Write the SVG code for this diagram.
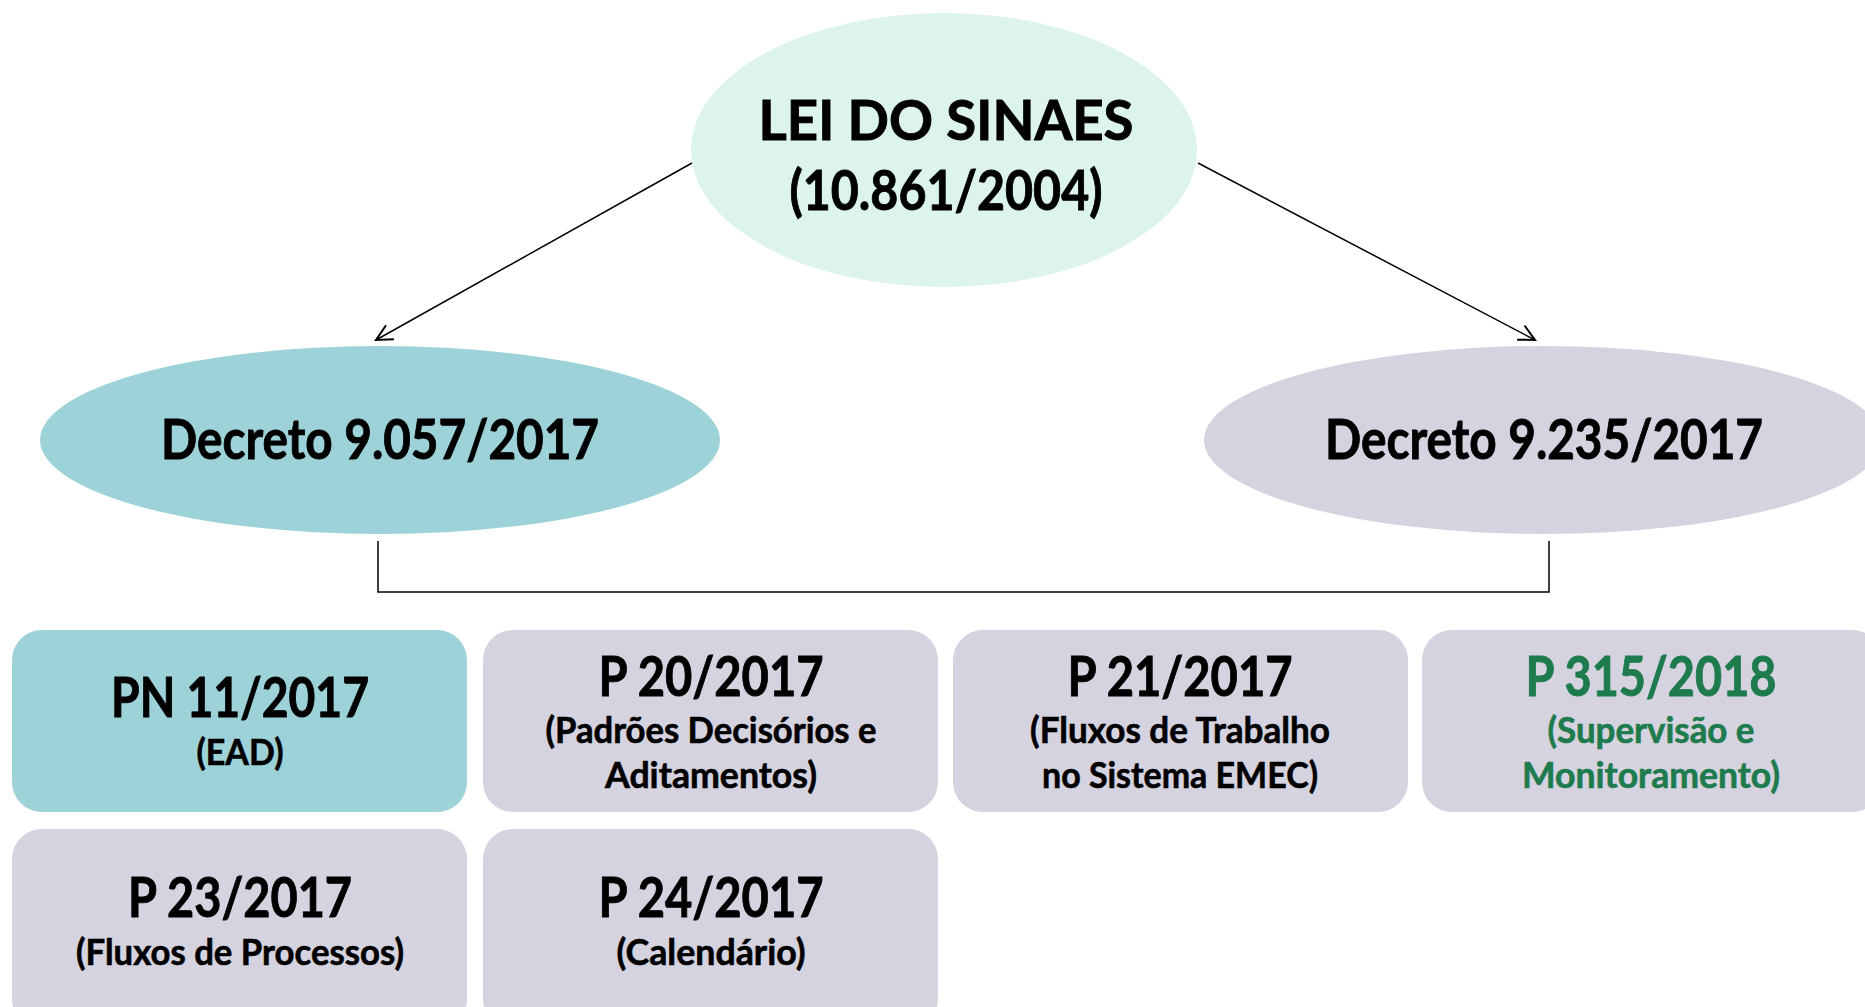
<svg xmlns="http://www.w3.org/2000/svg" width="1865" height="1007" viewBox="0 0 1865 1007">
<defs>
<marker id="arr" viewBox="0 0 20 20" refX="18" refY="10" markerWidth="20" markerHeight="20" markerUnits="userSpaceOnUse" orient="auto">
<path d="M2,2 L18,10 L2,18" fill="none" stroke="#000" stroke-width="2"/>
</marker>
<style>
text{font-family:Lato,"Liberation Sans",sans-serif;font-weight:bold;text-anchor:middle;fill:#000;stroke:#000;stroke-width:0.9}
.big{font-size:56px}
.sub{font-size:36px;stroke-width:0.6}
.teal{fill:#9DD3D8}
.gray{fill:#D5D3DF}
text.green{fill:#1E7B4E;stroke:#1E7B4E}
.conn{fill:none;stroke:#000;stroke-width:1.5}
</style>
</defs>
<rect width="1865" height="1007" fill="#fff"/>
<g id="connectors">
<line class="conn" x1="692" y1="163" x2="376" y2="340" marker-end="url(#arr)"/>
<line class="conn" x1="1198" y1="163" x2="1535" y2="340" marker-end="url(#arr)"/>
<polyline class="conn" stroke="#444" points="378,541 378,592 1549,592 1549,541"/>
</g>
<g id="lei">
<ellipse cx="944" cy="150" rx="253" ry="137" fill="#DCF3EE"/>
<text class="big" x="946" y="140" textLength="375" lengthAdjust="spacingAndGlyphs">LEI DO SINAES</text>
<text class="big" x="946" y="210" textLength="313" lengthAdjust="spacingAndGlyphs">(10.861/2004)</text>
</g>
<g id="decreto9057">
<ellipse class="teal" cx="380" cy="440" rx="340" ry="94"/>
<text class="big" x="380" y="459" textLength="438" lengthAdjust="spacingAndGlyphs">Decreto 9.057/2017</text>
</g>
<g id="decreto9235">
<ellipse class="gray" cx="1543" cy="440" rx="339" ry="94"/>
<text class="big" x="1544" y="459" textLength="438" lengthAdjust="spacingAndGlyphs">Decreto 9.235/2017</text>
</g>
<g id="pn11">
<rect class="teal" x="12" y="630" width="455" height="182" rx="30"/>
<text class="big" x="240" y="717" textLength="258" lengthAdjust="spacingAndGlyphs">PN 11/2017</text>
<text class="sub" x="240" y="765" textLength="87" lengthAdjust="spacingAndGlyphs">(EAD)</text>
</g>
<g id="p20">
<rect class="gray" x="483" y="630" width="455" height="182" rx="30"/>
<text class="big" x="711" y="696" textLength="225" lengthAdjust="spacingAndGlyphs">P 20/2017</text>
<text class="sub" x="711" y="743" textLength="331" lengthAdjust="spacingAndGlyphs">(Padrões Decisórios e</text>
<text class="sub" x="711" y="788" textLength="212" lengthAdjust="spacingAndGlyphs">Aditamentos)</text>
</g>
<g id="p21">
<rect class="gray" x="953" y="630" width="455" height="182" rx="30"/>
<text class="big" x="1180" y="696" textLength="225" lengthAdjust="spacingAndGlyphs">P 21/2017</text>
<text class="sub" x="1180" y="743" textLength="300" lengthAdjust="spacingAndGlyphs">(Fluxos de Trabalho</text>
<text class="sub" x="1180" y="788" textLength="276" lengthAdjust="spacingAndGlyphs">no Sistema EMEC)</text>
</g>
<g id="p315">
<rect class="gray" x="1422" y="630" width="460" height="182" rx="30"/>
<text class="big green" x="1651" y="696" textLength="251" lengthAdjust="spacingAndGlyphs">P 315/2018</text>
<text class="sub green" x="1651" y="743" textLength="207" lengthAdjust="spacingAndGlyphs">(Supervisão e</text>
<text class="sub green" x="1651" y="788" textLength="258" lengthAdjust="spacingAndGlyphs">Monitoramento)</text>
</g>
<g id="p23">
<rect class="gray" x="12" y="829" width="455" height="200" rx="30"/>
<text class="big" x="240" y="917" textLength="224" lengthAdjust="spacingAndGlyphs">P 23/2017</text>
<text class="sub" x="240" y="965" textLength="328" lengthAdjust="spacingAndGlyphs">(Fluxos de Processos)</text>
</g>
<g id="p24">
<rect class="gray" x="483" y="829" width="455" height="200" rx="30"/>
<text class="big" x="711" y="917" textLength="225" lengthAdjust="spacingAndGlyphs">P 24/2017</text>
<text class="sub" x="711" y="965" textLength="189" lengthAdjust="spacingAndGlyphs">(Calendário)</text>
</g>
</svg>
